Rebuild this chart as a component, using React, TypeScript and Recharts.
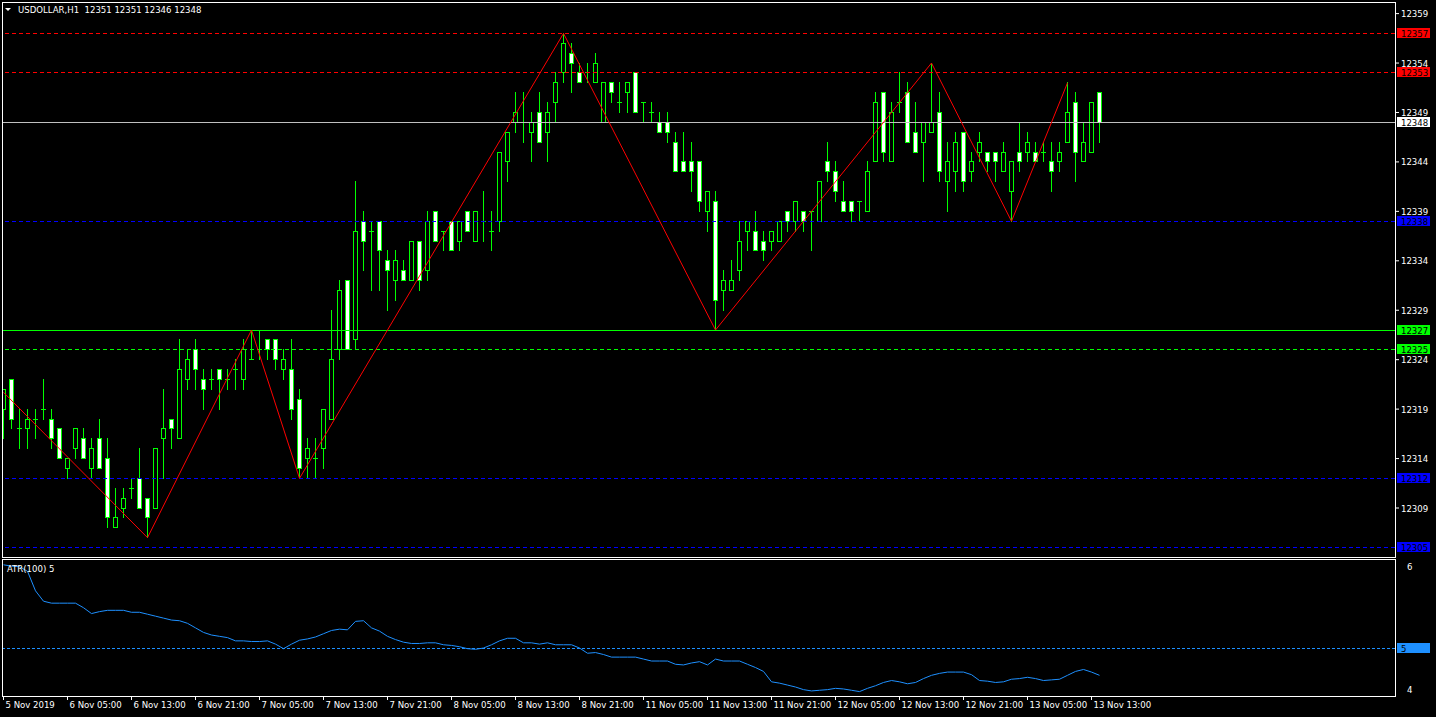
import { ComposedChart, Bar, Line, XAxis, YAxis, ReferenceLine } from "recharts";

// H1 bars, 5 Nov 21:00 .. 13 Nov 14:00
const opens = [12319,12322,12317,12317,12318,12319,12318,12317,12313,12315,12316,12313,12316,12314,12307,12309,12311,12312,12310,12309,12316,12318,12316,12322,12325,12322,12322,12323,12322,12323,12322,12324,12325,12326,12326,12323,12323,12320,12314,12314,12315,12318,12325,12332,12326,12338,12337,12338,12334,12332,12333,12332,12336,12333,12339,12337,12338,12336,12339,12336,12338,12337,12338,12344,12348,12348,12347,12349,12347,12350,12353,12355,12353,12353,12352,12348,12352,12350,12351,12353,12350,12349,12348,12348,12346,12344,12344,12344,12339,12340,12331,12331,12333,12337,12337,12336,12336,12336,12339,12338,12339,12339,12338,12344,12343,12340,12340,12340,12339,12344,12351,12344,12350,12351,12347,12346,12347,12349,12342,12343,12347,12343,12345,12345,12345,12343,12341,12345,12345,12345,12345,12344,12344,12346,12350,12344,12345,12351];
const highs = [12321,12322,12319,12319,12319,12322,12319,12317,12314,12317,12317,12316,12318,12316,12311,12311,12312,12315,12310,12315,12321,12318,12326,12325,12326,12323,12323,12323,12323,12324,12326,12327,12327,12326,12326,12325,12326,12321,12316,12316,12319,12329,12332,12332,12342,12339,12338,12338,12335,12335,12334,12336,12336,12339,12339,12337,12338,12338,12339,12339,12341,12339,12345,12347,12351,12351,12349,12351,12350,12353,12357,12356,12354,12354,12355,12352,12352,12352,12352,12353,12350,12350,12349,12349,12347,12347,12346,12344,12341,12341,12333,12334,12338,12338,12339,12337,12337,12338,12339,12340,12339,12339,12342,12346,12344,12342,12340,12340,12344,12351,12351,12350,12353,12352,12350,12348,12354,12351,12346,12347,12347,12345,12347,12345,12345,12346,12344,12348,12347,12346,12346,12346,12346,12352,12351,12348,12350,12351];
const lows = [12316,12317,12315,12315,12316,12318,12315,12314,12312,12314,12314,12312,12313,12307,12307,12308,12310,12309,12306,12309,12312,12315,12316,12321,12321,12319,12321,12319,12321,12321,12321,12324,12324,12324,12323,12322,12318,12312,12312,12312,12313,12318,12324,12325,12325,12333,12331,12331,12329,12330,12332,12332,12331,12332,12336,12335,12335,12335,12337,12336,12336,12335,12337,12342,12347,12346,12344,12346,12344,12348,12352,12351,12352,12352,12352,12348,12350,12349,12349,12349,12348,12348,12347,12346,12343,12343,12341,12339,12337,12327,12329,12331,12332,12335,12335,12334,12335,12336,12337,12337,12337,12335,12338,12342,12340,12339,12338,12338,12339,12344,12344,12344,12349,12346,12345,12342,12347,12342,12339,12341,12341,12342,12344,12343,12342,12343,12338,12343,12344,12344,12344,12341,12343,12346,12342,12344,12345,12346];
const closes = [12321,12318,12317,12318,12318,12319,12316,12314,12314,12317,12314,12315,12313,12308,12308,12310,12311,12309,12308,12315,12317,12317,12323,12324,12323,12321,12322,12322,12322,12323,12325,12324,12325,12325,12324,12324,12319,12313,12315,12314,12319,12324,12331,12325,12337,12336,12337,12335,12333,12334,12332,12336,12332,12338,12336,12337,12335,12338,12337,12339,12338,12337,12345,12347,12349,12348,12348,12346,12349,12352,12356,12354,12352,12353,12354,12352,12351,12350,12352,12349,12350,12349,12347,12347,12343,12343,12343,12340,12341,12330,12332,12332,12336,12338,12335,12335,12337,12338,12338,12340,12338,12339,12342,12343,12341,12339,12339,12340,12343,12350,12345,12349,12350,12346,12345,12348,12348,12343,12344,12346,12342,12344,12346,12344,12344,12345,12344,12344,12346,12344,12345,12343,12345,12349,12345,12346,12350,12348];

// ATR(100) read along the lower pane
const atr = [6.28,6.26,6.25,6.18,5.88,5.72,5.69,5.69,5.69,5.69,5.62,5.53,5.56,5.58,5.58,5.58,5.55,5.55,5.52,5.49,5.46,5.43,5.42,5.38,5.31,5.24,5.2,5.18,5.16,5.11,5.11,5.1,5.1,5.11,5.06,4.99,5.06,5.12,5.14,5.17,5.22,5.27,5.29,5.28,5.41,5.42,5.31,5.26,5.18,5.13,5.09,5.07,5.07,5.08,5.08,5.05,5.04,5.02,4.99,4.98,5.0,5.05,5.11,5.15,5.15,5.08,5.08,5.06,5.08,5.05,5.05,5.05,5.0,4.92,4.93,4.9,4.86,4.86,4.86,4.86,4.83,4.8,4.8,4.8,4.75,4.74,4.77,4.79,4.74,4.83,4.8,4.8,4.8,4.75,4.7,4.64,4.48,4.46,4.43,4.4,4.36,4.34,4.35,4.36,4.38,4.37,4.35,4.33,4.38,4.42,4.47,4.5,4.48,4.45,4.47,4.53,4.58,4.61,4.63,4.63,4.63,4.59,4.5,4.49,4.47,4.48,4.52,4.53,4.55,4.53,4.5,4.51,4.52,4.58,4.64,4.67,4.63,4.58];

// zigzag pivots (first point is where the leg enters the window)
const zigzagBars = [0, 18, 31, 37, 70, 89, 116, 126, 133];
const zigzagPrices = [12320.7, 12306, 12327, 12312, 12357, 12327, 12354, 12338, 12352];

const priceTicks = [12309, 12314, 12319, 12324, 12329, 12334, 12339, 12344, 12349, 12354, 12359];
const timeTickBars = [0, 8, 16, 24, 32, 40, 48, 56, 64, 72, 80, 88, 96, 104, 112, 120, 128, 136];
const timeLabels = [
  "5 Nov 2019", "6 Nov 05:00", "6 Nov 13:00", "6 Nov 21:00", "7 Nov 05:00", "7 Nov 13:00",
  "7 Nov 21:00", "8 Nov 05:00", "8 Nov 13:00", "8 Nov 21:00", "11 Nov 05:00", "11 Nov 13:00",
  "11 Nov 21:00", "12 Nov 05:00", "12 Nov 13:00", "12 Nov 21:00", "13 Nov 05:00", "13 Nov 13:00",
];

const redLevels = [12357, 12353];
const blueLevels = [12338, 12312, 12305];
const greenSolid = 12327;
const greenDashed = 12325;
const bidPrice = 12348;
const atrLevel = 5;
const atrScaleLabels = [6.25, 4.365];

const LIME = "#00ff00";
const FONT = "'DejaVu Sans Condensed', 'DejaVu Sans', sans-serif";
const FS = 9.5;
const X_DOMAIN: [number, number] = [-0.0625, 173.9375];

const data = opens.map((o, i) => {
  const zi = zigzagBars.indexOf(i);
  return {
    i,
    o,
    h: highs[i],
    l: lows[i],
    c: closes[i],
    range: [lows[i], highs[i]],
    zz: zi >= 0 ? zigzagPrices[zi] : null,
    atr: atr[i],
  };
});

const Candle = (props: any) => {
  const { x, y, width, height, payload } = props;
  if (!payload || x == null || y == null) return null;
  const { o, h, l, c } = payload;
  const top = Math.min(y, y + height);
  const ppu = h > l ? Math.abs(height) / (h - l) : 0;
  const row = (v: number) => Math.floor(top + (h - v) * ppu);
  const col = Math.floor(x + width / 2);
  const cx = col + 0.5;
  const rH = row(h);
  const rL = row(l);
  const rT = row(Math.max(o, c));
  const rB = row(Math.min(o, c));
  return (
    <g>
      <line x1={cx} x2={cx} y1={rH} y2={rL + 1} stroke={LIME} strokeWidth={1} />
      {o === c ? (
        <line x1={col - 2} x2={col + 3} y1={rT + 0.5} y2={rT + 0.5} stroke={LIME} strokeWidth={1} />
      ) : (
        <rect
          x={cx - 2}
          y={rT + 0.5}
          width={4}
          height={rB - rT}
          fill={c > o ? "#000000" : "#ffffff"}
          stroke={LIME}
          strokeWidth={1}
        />
      )}
    </g>
  );
};

const PriceTag = (props: any) => {
  const { viewBox, text, bg } = props;
  if (!viewBox) return null;
  const x = viewBox.x + viewBox.width + 2;
  const y = Math.floor(viewBox.y);
  return (
    <g>
      <rect x={x} y={y - 5} width={33} height={10} fill={bg} />
      <text x={x + 4} y={y + 4} fill="#000000" fontSize={FS} fontFamily={FONT}>
        {text}
      </text>
    </g>
  );
};

const AxisText = (props: any) => {
  const { x, y, payload, fmt } = props;
  return (
    <text x={x} y={y + 3.5} fill="#ffffff" fontSize={FS} fontFamily={FONT} textAnchor="start">
      {fmt ? fmt(payload.value) : payload.value}
    </text>
  );
};

const TimeTick = (props: any) => {
  const { x, y, payload } = props;
  const k = timeTickBars.indexOf(payload.value);
  return (
    <text x={x + 2} y={y + 6} fill="#ffffff" fontSize={FS} fontFamily={FONT} textAnchor="start">
      {timeLabels[k]}
    </text>
  );
};

const level = (p: number, color: string, dashed: boolean, tagBg: string) => (
  <ReferenceLine
    key={`${p}-${color}`}
    y={p}
    stroke={color}
    strokeWidth={1}
    strokeDasharray={dashed ? "4 3" : undefined}
    shapeRendering="crispEdges"
    label={<PriceTag text={String(p)} bg={tagBg} />}
  />
);

const frame = (top: number, height: number) => ({
  position: "absolute" as const,
  left: 2,
  top,
  width: 1394,
  height,
  border: "1px solid #ffffff",
  boxSizing: "border-box" as const,
  pointerEvents: "none" as const,
});

export default function App() {
  return (
    <div
      style={{
        position: "fixed",
        left: 0,
        top: 0,
        width: 1436,
        height: 717,
        background: "#000000",
        overflow: "hidden",
        fontFamily: FONT,
      }}
    >
      <div style={{ position: "absolute", left: 0, top: 0 }}>
        <ComposedChart width={1436} height={557} data={data} margin={{ top: 3, right: 0, bottom: 0, left: 3 }}>
          <XAxis type="number" dataKey="i" domain={X_DOMAIN} allowDataOverflow hide />
          <YAxis
            orientation="right"
            width={41}
            domain={[12304.045, 12360.072]}
            allowDataOverflow
            ticks={priceTicks}
            interval={0}
            axisLine={false}
            tickLine={{ stroke: "#ffffff" }}
            tickSize={4}
            tickMargin={2}
            tick={<AxisText />}
          />
          {redLevels.map((p) => level(p, "#ff0000", true, "#ff0000"))}
          {level(bidPrice, "#c0c0c0", false, "#ffffff")}
          {blueLevels.map((p) => level(p, "#0000ff", true, "#0000ff"))}
          {level(greenSolid, LIME, false, LIME)}
          {level(greenDashed, LIME, true, LIME)}
          <Bar dataKey="range" barSize={5} shape={<Candle />} isAnimationActive={false} />
          <Line
            dataKey="zz"
            type="linear"
            stroke="#ff0000"
            strokeWidth={1}
            dot={false}
            connectNulls
            isAnimationActive={false}
          />
        </ComposedChart>
      </div>

      <div style={{ position: "absolute", left: 0, top: 557 }}>
        <ComposedChart width={1436} height={160} data={data} margin={{ top: 3, right: 0, bottom: 0, left: 3 }}>
          <XAxis
            type="number"
            dataKey="i"
            domain={X_DOMAIN}
            allowDataOverflow
            ticks={timeTickBars}
            interval={0}
            height={21}
            axisLine={false}
            tickLine={{ stroke: "#ffffff" }}
            tickSize={4}
            tick={<TimeTick />}
          />
          <YAxis
            orientation="right"
            width={41}
            domain={[4.262, 6.354]}
            allowDataOverflow
            ticks={atrScaleLabels}
            interval={0}
            axisLine={false}
            tickLine={false}
            tickMargin={6}
            tick={<AxisText fmt={(v: number) => String(Math.round(v))} />}
          />
          <ReferenceLine
            y={atrLevel}
            stroke="#1e90ff"
            strokeDasharray="3 2"
            shapeRendering="crispEdges"
            label={<PriceTag text={String(atrLevel)} bg="#1e90ff" />}
          />
          <Line dataKey="atr" type="linear" stroke="#1e90ff" strokeWidth={1} dot={false} isAnimationActive={false} />
        </ComposedChart>
      </div>

      <div style={frame(2, 556)} />
      <div style={frame(559, 138)} />

      <svg style={{ position: "absolute", left: 0, top: 0 }} width={14} height={14}>
        <polygon points="5,8 11,8 8,11" fill="#ffffff" />
      </svg>
      <div style={{ position: "absolute", left: 18, top: 4, color: "#ffffff", fontSize: FS, whiteSpace: "pre", lineHeight: "12px" }}>
        USDOLLAR,H1  12351 12351 12346 12348
      </div>
      <div style={{ position: "absolute", left: 7, top: 563, color: "#ffffff", fontSize: FS, whiteSpace: "pre", lineHeight: "12px" }}>
        ATR(100) 5
      </div>
    </div>
  );
}
